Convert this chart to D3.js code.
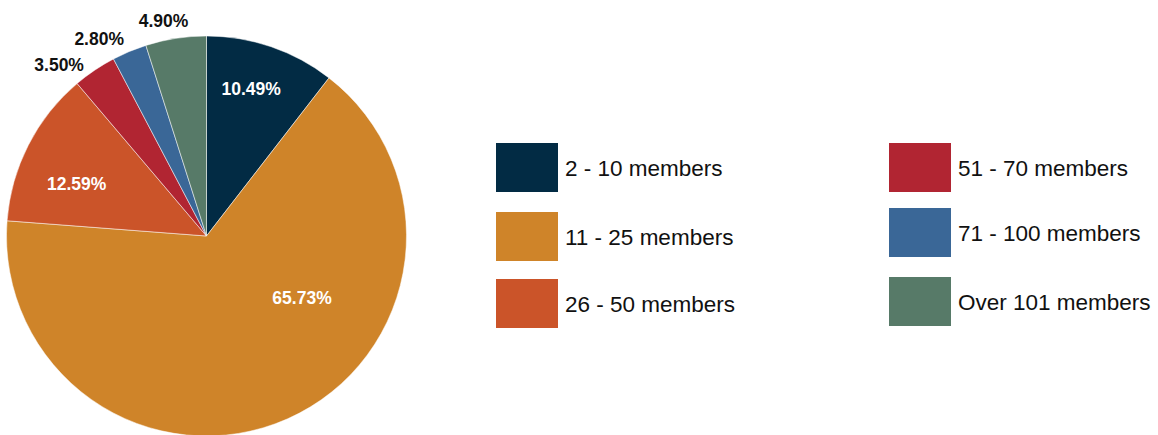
<!DOCTYPE html>
<html>
<head>
<meta charset="utf-8">
<script src="https://cdn.jsdelivr.net/npm/d3@7"></script>
<style>
  body { margin: 0; background: #fff; }
  svg { display: block; font-family: "Liberation Sans", Arial, Helvetica, sans-serif; }
</style>
</head>
<body>
<div class="chart"></div>
<script>
// data
var categories = ["2 - 10 members", "11 - 25 members", "26 - 50 members",
                  "51 - 70 members", "71 - 100 members", "Over 101 members"];
var shares = [10.49, 65.73, 12.59, 3.50, 2.80, 4.90];
var colors = ["#022b44", "#cf8429", "#cb5429", "#b12532", "#3a6797", "#577a68"];

var width = 1158, height = 435;
var cx = 206.5, cy = 236, radius = 200;

// slices under this share get their label outside
var outsideCut = 6;
// label placement tweaks (angle shift in degrees, radius fraction)
var insideTweak = { 0: [-2, 0.77], 1: [-33, 0.57], 2: [-5, 0.70] };
var outsideTweak = { 3: [-1.5, 1.055], 4: [0, 1.07], 5: [4, 1.08] };

var svg = d3.select(".chart")
  .append("svg")
    .attr("width", width)
    .attr("height", height);

var g = svg.append("g")
    .attr("transform", "translate(" + cx + "," + cy + ")");

var pie = d3.pie().sort(null).value(function(d) { return d; });
var arcs = pie(shares);

var arc = d3.arc().innerRadius(0).outerRadius(radius);

g.selectAll("path.slice")
  .data(arcs)
  .enter()
  .append("path")
    .attr("class", "slice")
    .attr("d", arc)
    .attr("fill", function(d, i) { return colors[i]; })
    .attr("stroke", "#ffffff")
    .attr("stroke-width", 0.5);

// labels
g.selectAll("text.pct")
  .data(arcs)
  .enter()
  .append("text")
    .attr("class", "pct")
    .each(function(d, i) {
      var mid = (d.startAngle + d.endAngle) / 2;
      var t = d3.select(this);
      var tw;
      if (d.value < outsideCut) {
        tw = outsideTweak[i] || [0, 1.065];
        t.attr("text-anchor", "end").attr("fill", "#111111");
      } else {
        tw = insideTweak[i] || [0, 0.72];
        t.attr("text-anchor", "middle").attr("fill", "#ffffff");
      }
      var a = mid + tw[0] * Math.PI / 180;
      t.attr("x", Math.sin(a) * radius * tw[1])
       .attr("y", -Math.cos(a) * radius * tw[1])
       .attr("dy", "0.36em");
    })
    .attr("font-size", 17.5)
    .attr("font-weight", "bold")
    .text(function(d) { return d.value.toFixed(2) + "%"; });

// legend, two columns of three
var legend = svg.append("g").attr("class", "legend");
var colX = [496, 889];
var rowY = [[143, 212, 279], [143, 208, 277]];

var item = legend.selectAll("g.item")
  .data(categories)
  .enter()
  .append("g")
    .attr("class", "item")
    .attr("transform", function(d, i) {
      var c = Math.floor(i / 3), r = i % 3;
      return "translate(" + colX[c] + "," + rowY[c][r] + ")";
    });

item.append("rect")
    .attr("width", 62)
    .attr("height", 49)
    .attr("fill", function(d, i) { return colors[i]; });

item.append("text")
    .attr("x", 69)
    .attr("y", 33)
    .attr("font-size", 22.5)
    .attr("fill", "#111111")
    .text(function(d) { return d; });
</script>
</body>
</html>
